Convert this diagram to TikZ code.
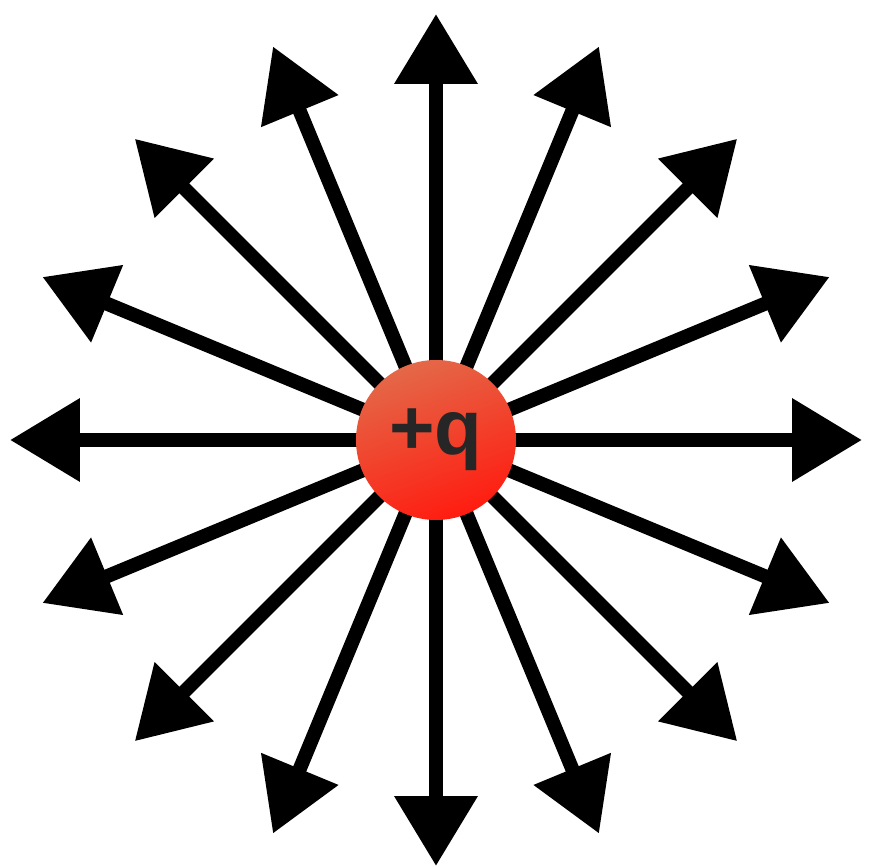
\documentclass[tikz,border=0pt]{standalone}
\usepackage{fontspec}
\setsansfont{Liberation Sans}
\usepackage{tikz}
\usetikzlibrary{arrows.meta}
\usepackage{xcolor}
\definecolor{chargetop}{RGB}{228,104,72}
\definecolor{chargebot}{RGB}{255,28,16}

\begin{document}
\begin{tikzpicture}[x=1pt, y=1pt,
  fieldline/.style={line width=14pt, -{Triangle[length=70pt, width=80pt]}},
  charge/.style={circle, minimum size=160pt, inner sep=0pt,
    top color=chargetop, bottom color=chargebot, shading angle=20,
    font=\fontsize{78}{80}\selectfont\sffamily\bfseries, text=black!85}]
\useasboundingbox (-436,-427) rectangle (437,440);
\foreach \i in {0,...,15}
    \coordinate (tip\i) at (\i*22.5:426);
\foreach \i in {0,...,15}
    \draw[fieldline] (0,0) -- (tip\i);
\node[charge] (q) at (0,0) {+q};
\end{tikzpicture}
\end{document}
